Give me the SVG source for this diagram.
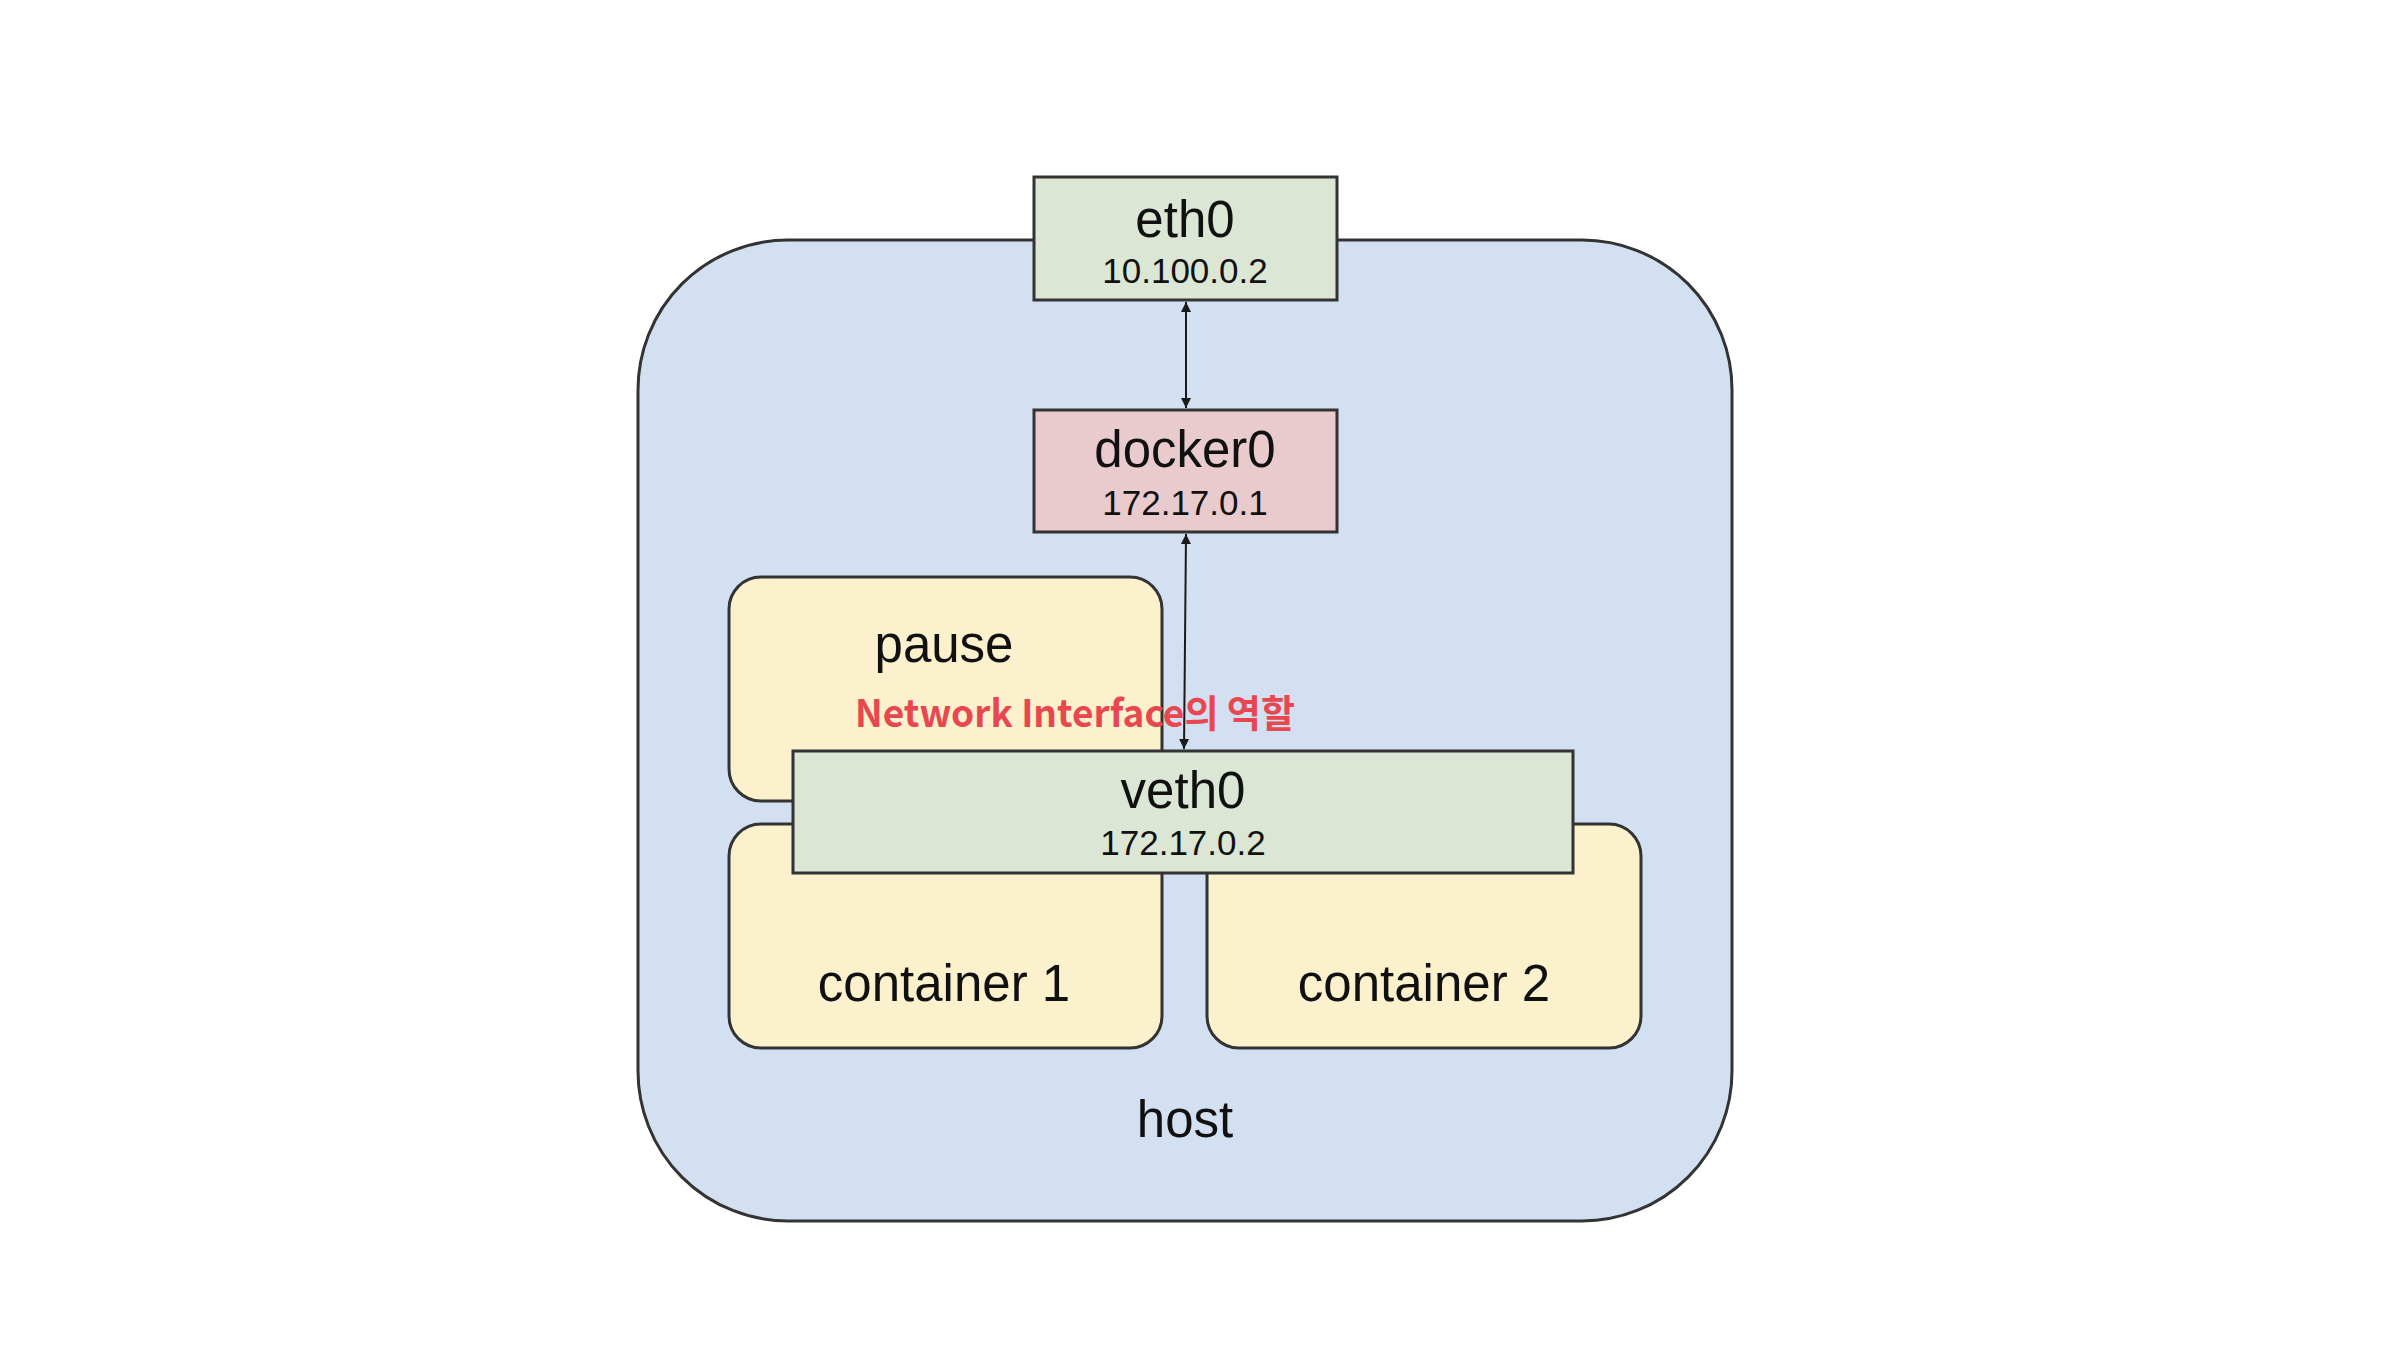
<svg xmlns="http://www.w3.org/2000/svg" width="2388" height="1361" viewBox="0 0 2388 1361">
<style>
.box{stroke:#333;stroke-width:3}
.lbl{font-family:"Liberation Sans",Arial,sans-serif;font-size:51px;fill:#111;text-anchor:middle}
.ip{font-family:"Liberation Sans",Arial,sans-serif;font-size:35px;fill:#111;text-anchor:middle}
.conn{stroke:#1a1a1a;stroke-width:2;fill:none}
.note{font-family:"Noto Sans CJK KR","Noto Sans",sans-serif;font-weight:bold;font-size:38px;fill:#e9474f}
</style>
<defs>
<marker id="ah" viewBox="0 0 10 16" refX="10" refY="8" markerWidth="10" markerHeight="16" markerUnits="userSpaceOnUse" orient="auto-start-reverse">
<path d="M0,3 L10,8 L0,13 Z" fill="#1a1a1a"/>
</marker>
</defs>
<rect width="2388" height="1361" fill="#ffffff"/>
<g id="host">
<rect class="box" x="638" y="240" width="1094" height="981" rx="150" ry="150" fill="#d3e0f1"/>
<text class="lbl" x="1185" y="1137">host</text>
</g>
<g id="eth0">
<rect class="box" x="1034" y="177" width="303" height="123" fill="#dbe7d4"/>
<text class="lbl" x="1185" y="237">eth0</text>
<text class="ip" x="1185" y="283">10.100.0.2</text>
</g>
<g id="docker0">
<rect class="box" x="1034" y="410" width="303" height="122" fill="#e9cacd"/>
<text class="lbl" x="1185" y="467">docker0</text>
<text class="ip" x="1185" y="515">172.17.0.1</text>
</g>
<g id="pause">
<rect class="box" x="729" y="577" width="433" height="224" rx="32" ry="32" fill="#fbf1cd"/>
<text class="lbl" x="944" y="662">pause</text>
</g>
<g id="container1">
<rect class="box" x="729" y="824" width="433" height="224" rx="32" ry="32" fill="#fbf1cd"/>
<text class="lbl" x="944" y="1001">container 1</text>
</g>
<g id="container2">
<rect class="box" x="1207" y="824" width="434" height="224" rx="32" ry="32" fill="#fbf1cd"/>
<text class="lbl" x="1424" y="1001">container 2</text>
</g>
<g id="veth0">
<rect class="box" x="793" y="751" width="780" height="122" fill="#dbe7d4"/>
<text class="lbl" x="1183" y="808">veth0</text>
<text class="ip" x="1183" y="855">172.17.0.2</text>
</g>
<g id="connectors">
<line class="conn" x1="1186" y1="302" x2="1186" y2="408" marker-start="url(#ah)" marker-end="url(#ah)"/>
<line class="conn" x1="1186" y1="534" x2="1184" y2="749" marker-start="url(#ah)" marker-end="url(#ah)"/>
</g>
<g id="note">
<text class="note" x="855" y="727" textLength="440" lengthAdjust="spacingAndGlyphs">Network Interface의 역할</text>
</g>
</svg>
